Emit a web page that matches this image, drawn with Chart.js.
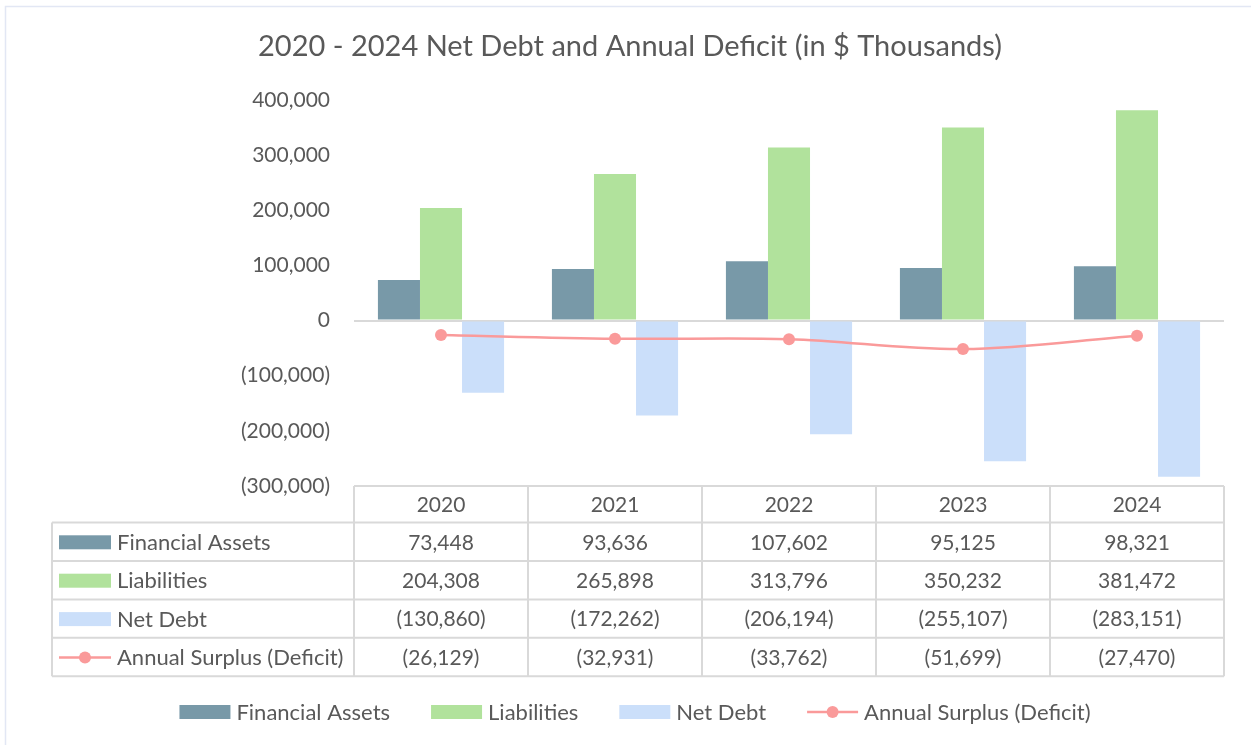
<!DOCTYPE html>
<html><head><meta charset="utf-8">
<script src="https://cdn.jsdelivr.net/npm/chart.js@4.4.1/dist/chart.umd.min.js"></script>
<style>html,body{margin:0;padding:0;background:#fff}#wrap{width:1251px;height:745px;position:relative}</style>
</head><body><div id="wrap"><canvas id="c"></canvas></div>
<script>
const years = ['2020', '2021', '2022', '2023', '2024'];
const financialAssets = [73448, 93636, 107602, 95125, 98321];
const liabilities = [204308, 265898, 313796, 350232, 381472];
const netDebt = [-130860, -172262, -206194, -255107, -283151];
const annualSurplus = [-26129, -32931, -33762, -51699, -27470];
const yMin = -300000, yMax = 400000, yStep = 100000;
const seriesNames = ['Financial Assets', 'Liabilities', 'Net Debt', 'Annual Surplus (Deficit)'];
const titleText = '2020 - 2024 Net Debt and Annual Deficit (in $ Thousands)';

const FONT = 'Lato, "Open Sans", sans-serif';
const TXT = '#595959';
const GRID = '#D9D9D9';
const COLORS = ['#7899A8', '#B1E29C', '#CBDFFA', '#FA9A9A'];

function fmt(v) {
  const s = Math.abs(v).toLocaleString('en-US');
  return v < 0 ? '(' + s + ')' : s;
}

function drawSwatch(ctx, i, x, yc, w) {
  if (i < 3) {
    ctx.fillStyle = COLORS[i];
    ctx.fillRect(x, yc - 7, w, 14);
  } else {
    ctx.strokeStyle = COLORS[3];
    ctx.lineWidth = 2.5;
    ctx.beginPath(); ctx.moveTo(x, yc); ctx.lineTo(x + w, yc); ctx.stroke();
    ctx.fillStyle = COLORS[3];
    ctx.beginPath(); ctx.arc(x + w / 2, yc, 6, 0, Math.PI * 2); ctx.fill();
  }
}

const tablePlugin = {
  id: 'tableAndTitle',
  beforeDraw(chart) {
    const ctx = chart.ctx;
    ctx.save();
    ctx.fillStyle = '#fff';
    ctx.fillRect(0, 0, chart.width, chart.height);
    ctx.strokeStyle = '#E2E7F4';
    ctx.lineWidth = 1.5;
    ctx.strokeRect(5.5, 6.5, 1400, 900);
    ctx.restore();
  },
  afterDraw(chart) {
    const ctx = chart.ctx, xs = chart.scales.x, area = chart.chartArea;
    ctx.save();
    // Title
    ctx.fillStyle = TXT;
    ctx.font = '29px ' + FONT;
    ctx.textAlign = 'center';
    ctx.textBaseline = 'middle';
    ctx.fillText(titleText, 630, 47);

    // Data table
    const half = (xs.getPixelForValue(1) - xs.getPixelForValue(0)) / 2;
    const edges = years.map((y, i) => xs.getPixelForValue(i) - half);
    edges.push(xs.getPixelForValue(years.length - 1) + half);
    const tLeft = 52, tRight = edges[edges.length - 1];
    const top = area.bottom, headH = 36.6, rowH = 38.4;
    const rowTops = [];
    for (let r = 0; r < 4; r++) rowTops.push(top + headH + r * rowH);
    const bottom = top + headH + 4 * rowH;

    ctx.strokeStyle = GRID;
    ctx.lineWidth = 2;
    ctx.beginPath();
    ctx.moveTo(edges[0], top); ctx.lineTo(tRight, top);
    for (let r = 0; r <= 4; r++) {
      const y = top + headH + r * rowH;
      ctx.moveTo(tLeft, y); ctx.lineTo(tRight, y);
    }
    ctx.moveTo(tLeft, top + headH); ctx.lineTo(tLeft, bottom);
    edges.forEach(x => { ctx.moveTo(x, top); ctx.lineTo(x, bottom); });
    ctx.stroke();

    ctx.font = '21px ' + FONT;
    ctx.fillStyle = TXT;
    ctx.textAlign = 'center';
    years.forEach((y, i) => ctx.fillText(y, xs.getPixelForValue(i), top + headH / 2 + 1));
    const rows = [financialAssets, liabilities, netDebt, annualSurplus];
    rows.forEach((arr, r) => {
      const yc = rowTops[r] + rowH / 2 + 1;
      ctx.font = '21px ' + FONT;
      arr.forEach((v, i) => {
        ctx.fillStyle = TXT;
        ctx.textAlign = 'center';
        ctx.fillText(fmt(v), xs.getPixelForValue(i), yc);
      });
      drawSwatch(ctx, r, 59, rowTops[r] + rowH / 2 + 0.5, 52);
      ctx.fillStyle = TXT;
      ctx.textAlign = 'left';
      ctx.font = '22px ' + FONT;
      ctx.fillText(seriesNames[r], 117, yc);
    });

    // Bottom legend
    const sw = 51, gap = 6, spacing = 41, ly = 712;
    ctx.font = '22px ' + FONT;
    const widths = seriesNames.map(n => ctx.measureText(n).width);
    let total = widths.reduce((a, w) => a + sw + gap + w, 0) + spacing * (seriesNames.length - 1);
    let x = 635 - total / 2;
    seriesNames.forEach((n, i) => {
      drawSwatch(ctx, i, x, ly, sw);
      ctx.fillStyle = TXT;
      ctx.textAlign = 'left';
      ctx.fillText(n, x + sw + gap, ly + 1);
      x += sw + gap + widths[i] + spacing;
    });
    ctx.restore();
  }
};

new Chart(document.getElementById('c'), {
  type: 'bar',
  data: {
    labels: years,
    datasets: [
      { label: seriesNames[0], data: financialAssets, backgroundColor: COLORS[0], borderWidth: 0, categoryPercentage: 0.725, barPercentage: 1, order: 1 },
      { label: seriesNames[1], data: liabilities, backgroundColor: COLORS[1], borderWidth: 0, categoryPercentage: 0.725, barPercentage: 1, order: 1 },
      { label: seriesNames[2], data: netDebt, backgroundColor: COLORS[2], borderWidth: 0, categoryPercentage: 0.725, barPercentage: 1, order: 1 },
      { type: 'line', label: seriesNames[3], data: annualSurplus, borderColor: COLORS[3], backgroundColor: COLORS[3],
        borderWidth: 2.5, pointRadius: 6, pointBorderWidth: 0, pointBackgroundColor: COLORS[3], tension: 0.35, order: 0 }
    ]
  },
  options: {
    responsive: true,
    maintainAspectRatio: false,
    animation: false,
    layout: { padding: { top: 100, bottom: 259, left: 0, right: 27 } },
    plugins: { legend: { display: false }, title: { display: false }, tooltip: { enabled: false } },
    scales: {
      x: { display: false, offset: true },
      y: {
        min: yMin, max: yMax,
        afterFit(s) { s.width = 354; },
        border: { display: false },
        grid: { drawTicks: false, lineWidth: 2, color: c => c.tick.value === 0 ? GRID : 'rgba(0,0,0,0)' },
        ticks: { stepSize: yStep, padding: 24, color: TXT, font: { family: FONT, size: 21 }, callback: v => fmt(v) }
      }
    }
  },
  plugins: [tablePlugin]
});
</script>
</body></html>
